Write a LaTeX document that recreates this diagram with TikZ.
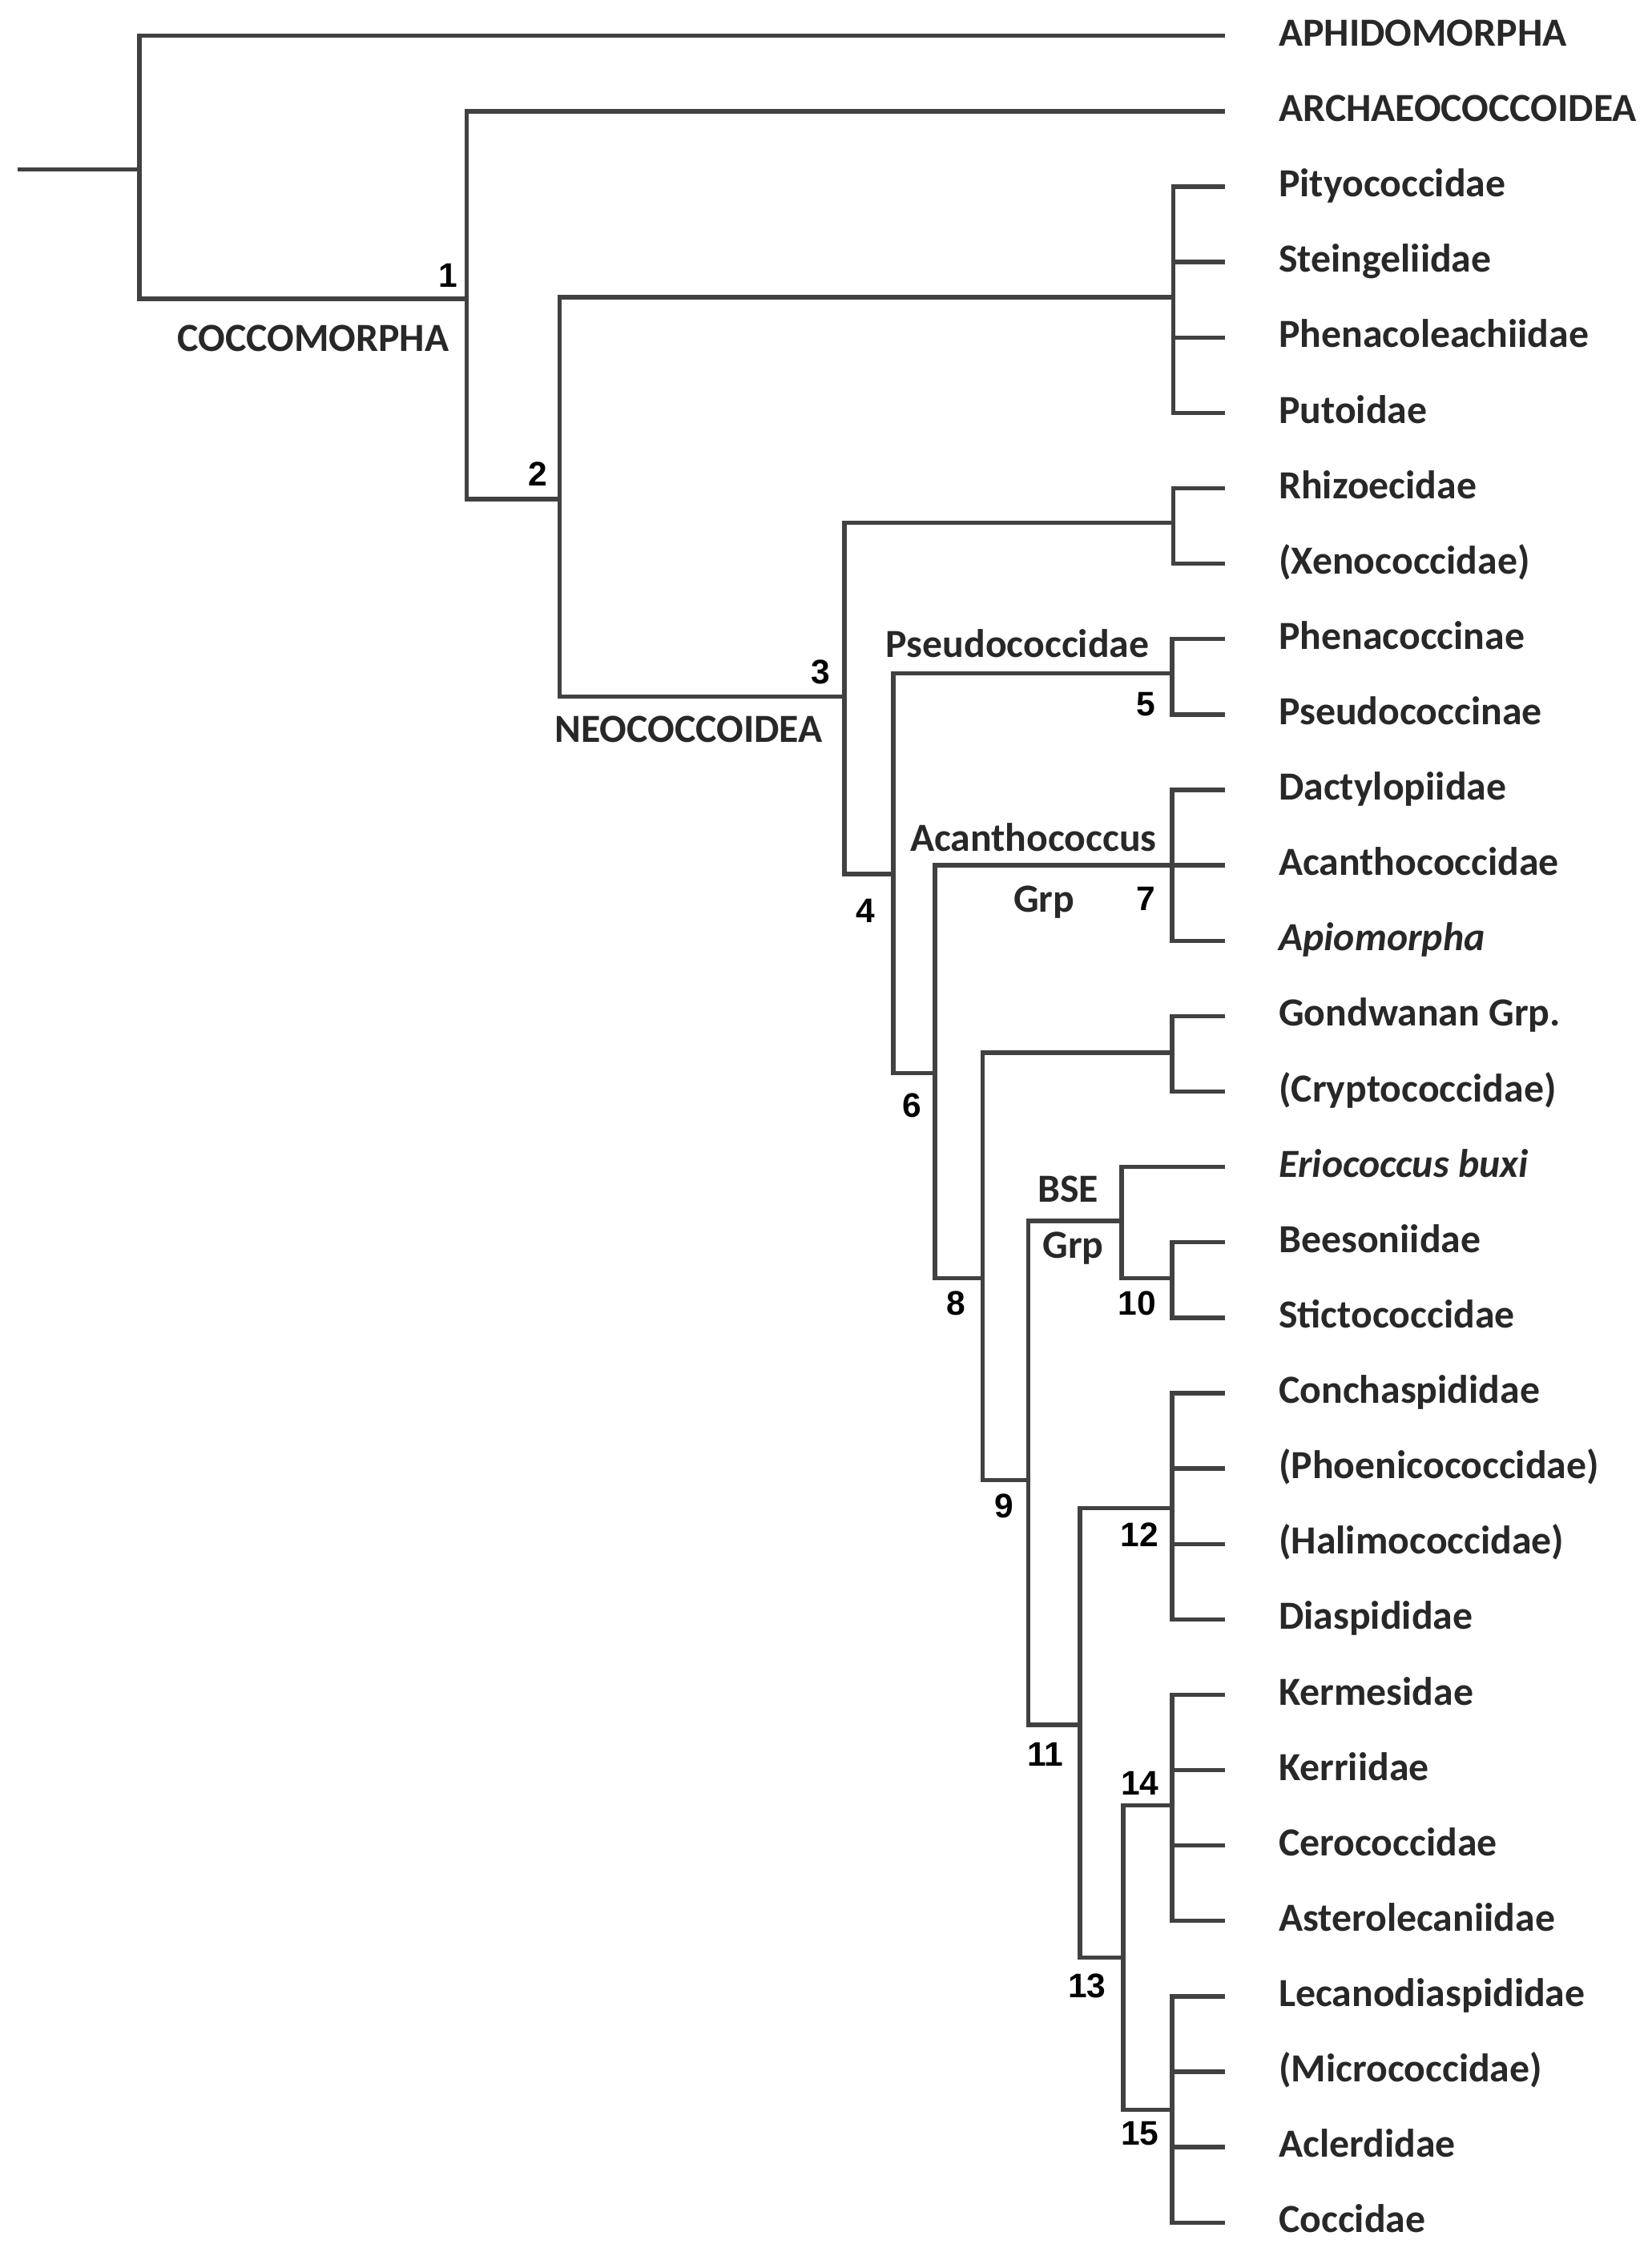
\documentclass[tikz,border=0pt]{standalone}
\usepackage{fontspec}
\setmainfont{Carlito}
\newfontfamily\numfont{Liberation Sans}
\definecolor{ln}{RGB}{65,65,65}
\definecolor{tx}{RGB}{40,40,40}
\begin{document}
\begin{tikzpicture}[x=0.02cm,y=-0.02cm,
  br/.style={draw=ln, line width=1.7pt, line join=miter},
  leaf/.style={anchor=base west, inner sep=0pt, yshift=-4pt, text=tx, font=\fontsize{15.8}{18}\selectfont\bfseries},
  lab/.style={inner sep=0pt, text=tx, font=\fontsize{15.8}{18}\selectfont\bfseries},
  num/.style={inner sep=0pt, text=black, font=\numfont\fontsize{13.5}{15}\selectfont\bfseries}]
\useasboundingbox[fill=white] (0,0) rectangle (1150,1568);

% leaves
\foreach \i/\t in {0/APHIDOMORPHA,1/ARCHAEOCOCCOIDEA,2/Pityococcidae,3/Steingeliidae,
  4/Phenacoleachiidae,5/Putoidae,6/Rhizoecidae,7/(Xenococcidae),8/Phenacoccinae,
  9/Pseudococcinae,10/Dactylopiidae,11/Acanthococcidae,12/{\itshape Apiomorpha},
  13/Gondwanan Grp.,14/(Cryptococcidae),15/{\itshape Eriococcus buxi},16/Beesoniidae,
  17/Stictococcidae,18/Conchaspididae,19/(Phoenicococcidae),20/(Halimococcidae),
  21/Diaspididae,22/Kermesidae,23/Kerriidae,24/Cerococcidae,25/Asterolecaniidae,
  26/Lecanodiaspididae,27/(Micrococcidae),28/Aclerdidae,29/Coccidae}{
  \coordinate (t\i) at ({853},{25+52.5*\i});
  \node[leaf] (l\i) at ({890},{25+52.5*\i}) {\t};
}

% junctions
\coordinate (rs) at (12,118);
\coordinate (r) at (97,118);
\coordinate (n1) at (325,208);
\coordinate (n2) at (389.6,347.5);
\coordinate (g2) at (817,207);
\coordinate (n3) at (588,485);
\coordinate (gR) at (817,364);
\coordinate (n4) at (622,608.6);
\coordinate (n5) at (816,469);
\coordinate (n6) at (651,747);
\coordinate (n7) at (816,602.5);
\coordinate (n8) at (684,890);
\coordinate (gG) at (816,733);
\coordinate (n9) at (716,1030.6);
\coordinate (bse) at (781,850);
\coordinate (n10) at (816,890);
\coordinate (n11) at (752,1201);
\coordinate (n12) at (816,1050);
\coordinate (n13) at (782,1363);
\coordinate (n14) at (816,1257);
\coordinate (n15) at (816,1469);

% branches
\draw[br] (rs) -- (r);
\draw[br] (r) |- (t0);
\draw[br] (r) |- (n1);
\draw[br] (n1) |- (t1);
\draw[br] (n1) |- (n2);
\draw[br] (n2) |- (g2);
\draw[br] (n2) |- (n3);
\foreach \i in {2,3,4,5} \draw[br] (g2) |- (t\i);
\draw[br] (n3) |- (gR);
\draw[br] (n3) |- (n4);
\foreach \i in {6,7} \draw[br] (gR) |- (t\i);
\draw[br] (n4) |- (n5);
\draw[br] (n4) |- (n6);
\foreach \i in {8,9} \draw[br] (n5) |- (t\i);
\draw[br] (n6) |- (n7);
\draw[br] (n6) |- (n8);
\foreach \i in {10,11,12} \draw[br] (n7) |- (t\i);
\draw[br] (n8) |- (gG);
\draw[br] (n8) |- (n9);
\foreach \i in {13,14} \draw[br] (gG) |- (t\i);
\draw[br] (n9) |- (bse);
\draw[br] (n9) |- (n11);
\draw[br] (bse) |- (t15);
\draw[br] (bse) |- (n10);
\foreach \i in {16,17} \draw[br] (n10) |- (t\i);
\draw[br] (n11) |- (n12);
\draw[br] (n11) |- (n13);
\foreach \i in {18,19,20,21} \draw[br] (n12) |- (t\i);
\draw[br] (n13) |- (n14);
\draw[br] (n13) |- (n15);
\foreach \i in {22,23,24,25} \draw[br] (n14) |- (t\i);
\foreach \i in {26,27,28,29} \draw[br] (n15) |- (t\i);

% clade labels
\node[lab, anchor=east] (cocco) at (313,235.4) {COCCOMORPHA};
\node[lab, anchor=east] (neo) at (573,508) {NEOCOCCOIDEA};
\node[lab, anchor=east] (pseudo) at (800.5,448) {Pseudococcidae};
\node[lab, anchor=east] (acan) at (805.7,583) {Acanthococcus};
\node[lab] (grp1) at (727,628) {Grp};
\node[lab] (bsel) at (743.7,827.8) {BSE};
\node[lab] (grp2) at (747.1,869.1) {Grp};

% node numbers
\node[num] (k1) at (312,192) {1};
\node[num] (k2) at (374.4,330) {2};
\node[num] (k3) at (571.6,467.8) {3};
\node[num] (k4) at (602.5,634) {4};
\node[num] (k5) at (797.6,490.5) {5};
\node[num] (k6) at (635,769.5) {6};
\node[num] (k7) at (798,625.7) {7};
\node[num] (k8) at (665.7,907.6) {8};
\node[num] (k9) at (699.2,1048.5) {9};
\node[num] (k10) at (791.6,907.6) {10};
\node[num] (k11) at (727.8,1221.3) {11};
\node[num] (k12) at (793.3,1068.4) {12};
\node[num] (k13) at (756.9,1383) {13};
\node[num] (k14) at (793.6,1241.5) {14};
\node[num] (k15) at (793.6,1485.4) {15};
\end{tikzpicture}
\end{document}
